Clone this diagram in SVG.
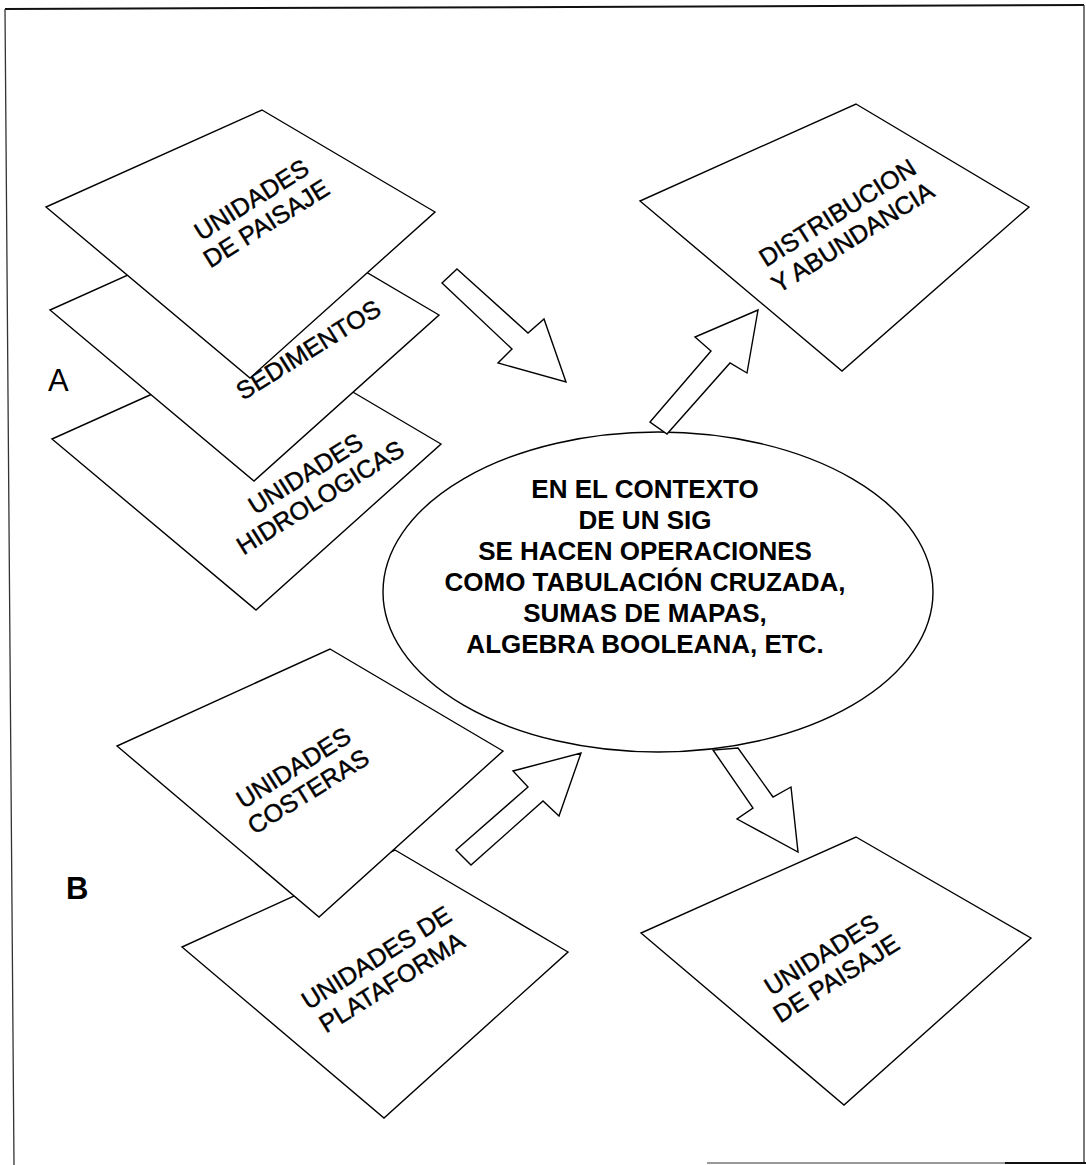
<svg xmlns="http://www.w3.org/2000/svg" width="1086" height="1165" viewBox="0 0 1086 1165">
<style>
.layer{fill:#fff;stroke:#000;stroke-width:1.4;stroke-linejoin:miter}
.arrow{fill:#fff;stroke:#000;stroke-width:1.4;stroke-linejoin:miter}
.lt{font-family:"Liberation Sans",Arial,sans-serif;font-size:25px;fill:#000;stroke:#000;stroke-width:0.45;text-anchor:middle}
.ct{font-family:"Liberation Sans",Arial,sans-serif;font-size:26px;font-weight:bold;fill:#000;text-anchor:middle}
.lab{font-family:"Liberation Sans",Arial,sans-serif;font-size:31px;fill:#000}
.border{fill:none;stroke:#333;stroke-width:1.3}
</style>
<rect width="1086" height="1165" fill="#fff"/>
<g id="border">
<path fill="none" stroke="#111" stroke-width="2" d="M5,9 L1084,5"/>
<path class="border" d="M1084,5 L1084,1163 M5,9 L14,1165"/>
<path fill="none" stroke="#777" stroke-width="1.5" d="M707,1163 L1005,1163"/>
<path fill="none" stroke="#111" stroke-width="2" d="M1005,1163 L1086,1163"/>
</g>
<g id="layer-hidrologicas">
<polygon class="layer" points="268,342 441,444 256,610 52,439"/>
<g transform="translate(310,481) rotate(-32)"><text class="lt" x="0" y="0">UNIDADES</text><text class="lt" x="0" y="28">HIDROLOGICAS</text></g>
</g>
<g id="layer-sedimentos">
<polygon class="layer" points="266,213 439,315 254,481 50,310"/>
<g transform="translate(313,357) rotate(-32)"><text class="lt" x="0" y="0">SEDIMENTOS</text></g>
</g>
<g id="layer-paisaje-a">
<polygon class="layer" points="262,110 435,212 250,378 46,207"/>
<g transform="translate(256,207) rotate(-32)"><text class="lt" x="0" y="0">UNIDADES</text><text class="lt" x="0" y="28">DE PAISAJE</text></g>
</g>
<g id="label-a"><text class="lab" x="48" y="391">A</text></g>
<g id="layer-distribucion">
<polygon class="layer" points="856,104 1029,207 842,371 640,201"/>
<g transform="translate(842,220) rotate(-32)"><text class="lt" x="0" y="0">DISTRIBUCION</text><text class="lt" x="0" y="29">Y ABUNDANCIA</text></g>
</g>
<g id="sig-ellipse">
<ellipse cx="658" cy="592" rx="275" ry="160" fill="#fff" stroke="#000" stroke-width="1.4"/>
<text class="ct" x="645" y="498">EN EL CONTEXTO</text>
<text class="ct" x="645" y="529">DE UN SIG</text>
<text class="ct" x="645" y="560">SE HACEN OPERACIONES</text>
<text class="ct" x="645" y="591">COMO TABULACIÓN CRUZADA,</text>
<text class="ct" x="645" y="622">SUMAS DE MAPAS,</text>
<text class="ct" x="645" y="653">ALGEBRA BOOLEANA, ETC.</text>
</g>
<g id="layer-plataforma">
<polygon class="layer" points="395,850 568,952 384,1118 182,947"/>
<g transform="translate(381,965) rotate(-32)"><text class="lt" x="0" y="0">UNIDADES DE</text><text class="lt" x="0" y="29">PLATAFORMA</text></g>
</g>
<g id="layer-costeras">
<polygon class="layer" points="330,649 503,751 319,917 117,746"/>
<g transform="translate(298,775) rotate(-32)"><text class="lt" x="0" y="0">UNIDADES</text><text class="lt" x="0" y="28">COSTERAS</text></g>
</g>
<g id="label-b"><text class="lab" x="66" y="899" font-weight="bold">B</text></g>
<g id="layer-paisaje-result">
<polygon class="layer" points="856,837 1031,938 844,1105 641,933"/>
<g transform="translate(826,962) rotate(-32)"><text class="lt" x="0" y="0">UNIDADES</text><text class="lt" x="0" y="28">DE PAISAJE</text></g>
</g>
<g id="connectors">
<polygon class="arrow" points="457,269 528,333 544,319 566,382 498,363 512,349 442,283"/>
<polygon class="arrow" points="650,422 711,351 695,337 758,310 747,373 730,363 667,434"/>
<polygon class="arrow" points="456,850 528,787 513,771 581,753 559,816 543,801 471,865"/>
<polygon class="arrow" points="713,750 753,808 737,819 798,852 791,787 773,797 738,748"/>
</g>
</svg>
